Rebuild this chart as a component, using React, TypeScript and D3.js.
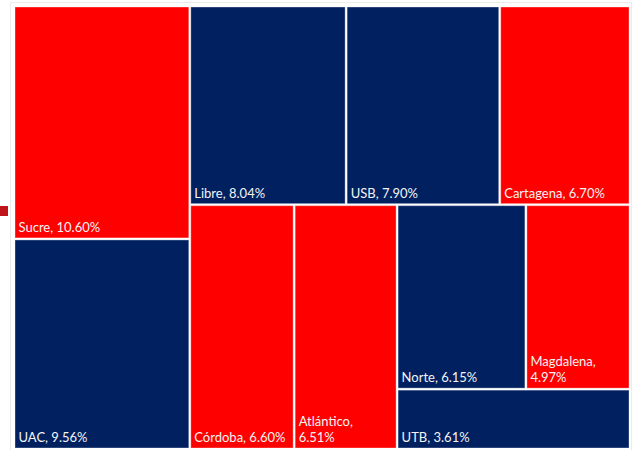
import React from 'react';
import * as d3 from 'd3';

const categories = ['Sucre', 'UAC', 'Libre', 'USB', 'Cartagena', 'Córdoba', 'Atlántico', 'Norte', 'Magdalena', 'UTB'];
const shares = [10.6, 9.56, 8.04, 7.9, 6.7, 6.6, 6.51, 6.15, 4.97, 3.61];
const seriesColors = ['#ff0000', '#002060', '#002060', '#002060', '#ff0000', '#ff0000', '#ff0000', '#002060', '#ff0000', '#002060'];

// tiling structure (how Excel split the area), holds names only
type G = { dir: 'x' | 'y'; children: (G | string)[] };
const tiling: G = {
  dir: 'x',
  children: [
    { dir: 'y', children: ['Sucre', 'UAC'] },
    {
      dir: 'y',
      children: [
        { dir: 'x', children: ['Libre', 'USB', 'Cartagena'] },
        {
          dir: 'x',
          children: ['Córdoba', 'Atlántico', { dir: 'y', children: [{ dir: 'x', children: ['Norte', 'Magdalena'] }, 'UTB'] }],
        },
      ],
    },
  ],
};

const W = 633;
const H = 450;
const X0 = 15, Y0 = 7, X1 = 629, Y1 = 448;
const FONT = '13px Lato';

function toNode(g: G | string): any {
  if (typeof g === 'string') {
    const i = categories.indexOf(g);
    return { name: g, value: shares[i], color: seriesColors[i] };
  }
  return { dir: g.dir, children: g.children.map(toNode) };
}

let ctx: CanvasRenderingContext2D | null = null;
function measure(t: string) {
  if (!ctx) ctx = document.createElement('canvas').getContext('2d');
  if (!ctx) return t.length * 6.4;
  ctx.font = FONT;
  return ctx.measureText(t).width;
}

export default function App() {
  const root = d3.hierarchy(toNode(tiling)).sum((d: any) => (d.children ? 0 : d.value));
  d3
    .treemap<any>()
    .size([X1 - X0, Y1 - Y0])
    .paddingInner(2)
    .round(false)
    .tile((node: any, x0, y0, x1, y1) => {
      if (node.data.dir === 'x') d3.treemapDice(node, x0, y0, x1, y1);
      else d3.treemapSlice(node, x0, y0, x1, y1);
    })(root);
  const fmt = d3.format('.2f');
  const leaves = root.leaves() as any[];

  return (
    <svg width={W} height={H} style={{ position: 'absolute', left: 0, top: 0 }}>
      <rect x={0} y={0} width={W} height={H} fill="#ffffff" />
      <rect x={10.5} y={2.5} width={621} height={450} fill="none" stroke="#ececec" strokeWidth={1} />
      <rect x={0} y={206} width={8} height={10} fill="#c0141c" />
      <g transform={`translate(${X0},${Y0})`}>
        {leaves.map((d) => {
          const label = `${d.data.name}, ${fmt(d.data.value)}%`;
          const w = d.x1 - d.x0;
          const lines = measure(label) > w * 0.905 ? [`${d.data.name},`, `${fmt(d.data.value)}%`] : [label];
          return (
            <g key={d.data.name}>
              <rect
                x={d.x0}
                y={d.y0}
                width={w}
                height={d.y1 - d.y0}
                fill={d.data.color}
                stroke="rgba(255,255,255,0.35)"
                strokeWidth={1}
              />
              {lines.map((ln, k) => (
                <text
                  key={k}
                  x={d.x0 + 3.5}
                  y={d.y1 - 6 - (lines.length - 1 - k) * 16}
                  fill="#f4f4f4"
                  style={{ font: FONT }}
                >
                  {ln}
                </text>
              ))}
            </g>
          );
        })}
      </g>
    </svg>
  );
}
